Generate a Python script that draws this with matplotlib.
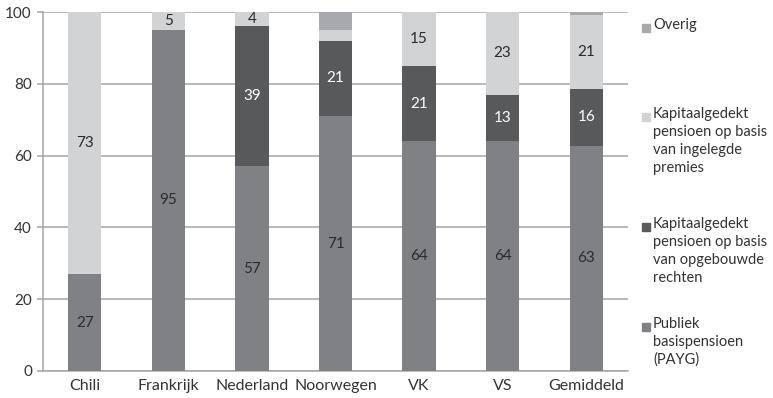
import numpy as np
import matplotlib
matplotlib.use("Agg")
import matplotlib.pyplot as plt
from matplotlib.patches import Rectangle

plt.rcParams['font.family'] = ['Lato', 'DejaVu Sans']

landen = ["Chili", "Frankrijk", "Nederland", "Noorwegen", "VK", "VS", "Gemiddeld"]

publiek = [27, 95, 57, 71, 64, 64, 62.8]
opbouw = [0, 0, 39, 21, 21, 13, 15.8]
premies = [73, 5, 4, 3, 15, 23, 20.6]
overig = [0, 0, 0, 5, 0, 0, 0.8]

yticks = [0, 20, 40, 60, 80, 100]

# naam, waarden, kleur, kleur van het getal (None = geen getallen)
reeksen = [
    ("Publiek\nbasispensioen\n(PAYG)", publiek, "#808184", "#2b2b2b"),
    ("Kapitaalgedekt\npensioen op basis\nvan opgebouwde\nrechten", opbouw, "#58595b", "white"),
    ("Kapitaalgedekt\npensioen op basis\nvan ingelegde\npremies", premies, "#d1d3d4", "#2b2b2b"),
    ("Overig", overig, "#a7a9ac", None),
]

grid_kleur = "#a6a6a6"
tekst_kleur = "#333333"

fig = plt.figure(figsize=(7.73, 3.98), dpi=100)
ax = fig.add_axes([43 / 773, 1 - 371 / 398, 585 / 773, 359 / 398])

x = np.arange(len(landen))
bodem = np.zeros(len(landen))
for naam, waarden, kleur, label_kleur in reeksen:
    waarden = np.array(waarden, dtype=float)
    ax.bar(x, waarden, width=0.4, bottom=bodem, color=kleur, zorder=3)
    if label_kleur is not None:
        for i, w in enumerate(waarden):
            # alleen segmenten van minstens 4 punten krijgen een getal
            if w >= 4:
                ax.text(x[i], bodem[i] + w / 2, f"{round(w):d}", ha="center", va="center",
                        fontsize=11, color=label_kleur, zorder=4)
    bodem += waarden

ax.set_xlim(-0.5, len(landen) - 0.5)
ax.set_ylim(0, 100)
ax.set_yticks(yticks)
ax.set_xticks(x)
ax.set_xticklabels(landen)
ax.yaxis.grid(True, color=grid_kleur, linewidth=1.1, zorder=0)
ax.set_axisbelow(True)
for side in ["top", "right"]:
    ax.spines[side].set_visible(False)
for side in ["left", "bottom"]:
    ax.spines[side].set_color(grid_kleur)
    ax.spines[side].set_linewidth(1.1)
ax.tick_params(axis="y", length=4, width=1.1, color=grid_kleur, labelsize=11,
               labelcolor=tekst_kleur, pad=4)
ax.tick_params(axis="x", length=0, labelsize=11.5, labelcolor=tekst_kleur, pad=6)

# legenda rechts, van boven naar beneden
legenda_y = [28, 117, 227, 327]
for (naam, waarden, kleur, _), y in zip(reversed(reeksen), legenda_y):
    fy = 1 - y / 398
    fig.patches.append(Rectangle((642 / 773, fy - 4 / 398), 8 / 773, 8 / 398,
                                 transform=fig.transFigure, color=kleur))
    fig.text(653 / 773, fy + 10 / 398, naam, ha="left", va="top", fontsize=10.5,
             color=tekst_kleur, linespacing=1.35)

fig.savefig("out.png", dpi=100)
